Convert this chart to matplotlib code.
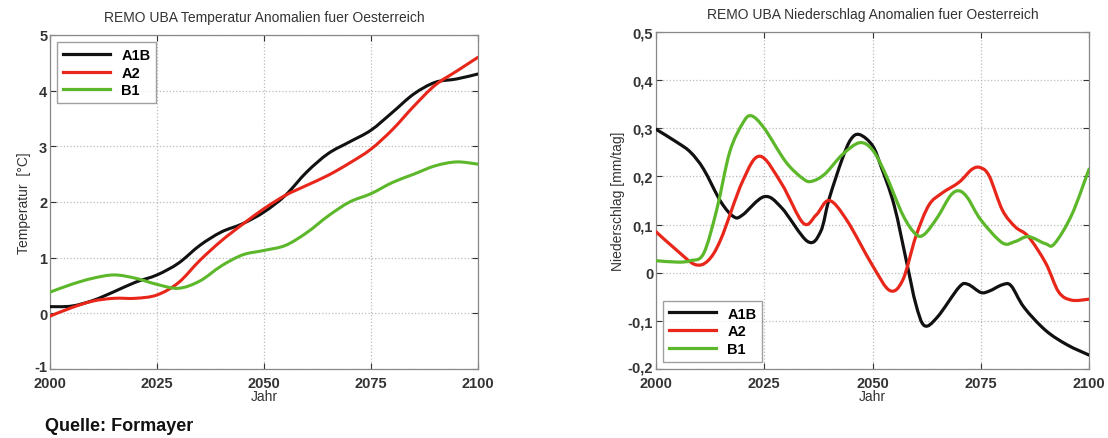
import matplotlib
matplotlib.use("Agg")
import matplotlib.pyplot as plt
import matplotlib.transforms as mtrans
from matplotlib.path import Path
from matplotlib.patches import PathPatch
from matplotlib.lines import Line2D

plt.rcParams['font.family'] = ['Liberation Sans', 'DejaVu Sans']

# ---- Temperature data ----
t_years = [2000, 2005, 2010, 2015, 2020, 2025, 2030, 2035, 2040, 2045, 2050,
           2055, 2060, 2065, 2070, 2075, 2080, 2085, 2090, 2095, 2100]
t_a1b = [0.12, 0.13, 0.23, 0.39, 0.56, 0.69, 0.9, 1.22, 1.46, 1.61, 1.82,
         2.12, 2.54, 2.87, 3.08, 3.29, 3.61, 3.94, 4.15, 4.21, 4.3]
t_a2 = [-0.05, 0.1, 0.22, 0.27, 0.27, 0.33, 0.55, 0.95, 1.3, 1.6, 1.88,
        2.12, 2.3, 2.48, 2.7, 2.95, 3.3, 3.72, 4.1, 4.35, 4.6]
t_b1 = [0.38, 0.52, 0.63, 0.69, 0.63, 0.52, 0.45, 0.58, 0.85, 1.05, 1.13,
        1.22, 1.45, 1.75, 2.0, 2.15, 2.35, 2.5, 2.65, 2.72, 2.68]

# ---- Precipitation data ----
p_a1b_years = [2000, 2005, 2008, 2011, 2015, 2018, 2020, 2025, 2029, 2035,
               2038, 2040, 2043, 2045, 2047, 2050, 2052, 2055, 2058, 2060, 2062,
               2065, 2070, 2072, 2075, 2077, 2080, 2082, 2085, 2090, 2095, 2100]
p_a1b = [0.298, 0.27, 0.25, 0.215, 0.147, 0.116, 0.12, 0.158, 0.135, 0.065,
         0.085, 0.154, 0.236, 0.277, 0.287, 0.264, 0.22, 0.14, 0.017, -0.065, -0.11,
         -0.092, -0.03, -0.024, -0.041, -0.038, -0.025, -0.027, -0.072, -0.12, -0.15, -0.171]
p_a2_years = [2000, 2005, 2009, 2012, 2015, 2020, 2024, 2029, 2034, 2037,
              2040, 2044, 2050, 2054, 2057, 2060, 2063, 2066, 2070, 2073,
              2075, 2077, 2080, 2083, 2086, 2090, 2093, 2096, 2100]
p_a2 = [0.085, 0.045, 0.017, 0.025, 0.07, 0.19, 0.242, 0.185, 0.103, 0.12,
        0.15, 0.11, 0.015, -0.037, -0.015, 0.075, 0.14, 0.165, 0.188, 0.215,
        0.218, 0.2, 0.13, 0.095, 0.075, 0.02, -0.04, -0.057, -0.055]
p_b1_years = [2000, 2005, 2008, 2011, 2014, 2017, 2020, 2022, 2025, 2030, 2034,
              2036, 2039, 2043, 2047, 2050, 2053, 2057, 2060, 2062, 2065, 2068,
              2070, 2072, 2075, 2080, 2083, 2086, 2090, 2092, 2096, 2100]
p_b1 = [0.025, 0.022, 0.025, 0.04, 0.13, 0.25, 0.31, 0.326, 0.3, 0.23, 0.195,
        0.19, 0.205, 0.245, 0.27, 0.255, 0.205, 0.12, 0.08, 0.08, 0.115, 0.16,
        0.17, 0.155, 0.11, 0.062, 0.065, 0.075, 0.06, 0.06, 0.12, 0.215]

x_ticks = [2000, 2025, 2050, 2075, 2100]
labels = ['A1B', 'A2', 'B1']
colors = ['#111111', '#e8261a', '#5cb82a']

fig = plt.figure(figsize=(11.08, 4.39), dpi=100)
ax1 = fig.add_axes([50/1108, 69/439, 428/1108, 334/439])
ax2 = fig.add_axes([656/1108, 69/439, 433/1108, 337/439])


def smooth_line(ax, xs, ys, color, lw):
    """Draw the data points joined by a smooth Bezier path (Catmull-Rom)."""
    n = len(xs)
    verts = [(xs[0], ys[0])]
    codes = [Path.MOVETO]
    for i in range(n - 1):
        x0, y0 = (xs[i - 1], ys[i - 1]) if i > 0 else (xs[i], ys[i])
        x1, y1 = xs[i], ys[i]
        x2, y2 = xs[i + 1], ys[i + 1]
        x3, y3 = (xs[i + 2], ys[i + 2]) if i + 2 < n else (xs[i + 1], ys[i + 1])
        c1 = (x1 + (x2 - x0) / 6.0, y1 + (y2 - y0) / 6.0)
        c2 = (x2 - (x3 - x1) / 6.0, y2 - (y3 - y1) / 6.0)
        verts += [c1, c2, (x2, y2)]
        codes += [Path.CURVE4] * 3
    patch = PathPatch(Path(verts, codes), fill=False, edgecolor=color, lw=lw,
                      capstyle='round', joinstyle='round', zorder=3)
    ax.add_patch(patch)


def style(ax):
    ax.grid(True, color='#bbbbbb', linestyle=':', linewidth=0.9)
    ax.tick_params(direction='in', length=4, labelsize=10.5, colors='#333333',
                   top=True, right=True)
    ax.tick_params(axis='x', pad=5)
    ax.tick_params(axis='y', pad=2)
    for s in ax.spines.values():
        s.set_color('#888888')
        s.set_linewidth(0.9)
    ax.set_xlim(2000, 2100)
    ax.set_xticks(x_ticks)
    ax.set_xticklabels([str(v) for v in x_ticks], fontweight='bold', fontsize=10.5,
                       color='#333333')
    ax.set_xlabel('Jahr', fontsize=10, color='#333333', labelpad=-1)
    # lift lowest y tick label a bit like the reference
    lab = ax.get_yticklabels()[0]
    lab.set_transform(lab.get_transform() +
                      mtrans.ScaledTranslation(0, 3 / 100, fig.dpi_scale_trans))


def legend(ax, loc):
    handles = [Line2D([], [], color=c, lw=2.3) for c in colors]
    ax.legend(handles, labels, loc=loc, frameon=True, fancybox=False,
              edgecolor='#888888', handlelength=3.2, borderpad=0.4,
              labelspacing=0.25, prop={'weight': 'bold', 'size': 10.5})


for ys, c in zip([t_a1b, t_a2, t_b1], colors):
    smooth_line(ax1, t_years, ys, c, 2.2)
ax1.set_ylim(-1, 5)
ax1.set_yticks(range(-1, 6))
ax1.set_yticklabels([str(v) for v in range(-1, 6)], fontweight='bold',
                    color='#333333')
style(ax1)
ax1.set_ylabel('Temperatur  [°C]', fontsize=10, color='#333333', labelpad=2)
ax1.set_title('REMO UBA Temperatur Anomalien fuer Oesterreich', fontsize=10,
              color='#333333', pad=10)
legend(ax1, 'upper left')

for xs, ys, c in zip([p_a1b_years, p_a2_years, p_b1_years], [p_a1b, p_a2, p_b1], colors):
    smooth_line(ax2, xs, ys, c, 2.3)
ax2.set_ylim(-0.2, 0.5)
yt = [-0.2, -0.1, 0, 0.1, 0.2, 0.3, 0.4, 0.5]
ax2.set_yticks(yt)
ax2.set_yticklabels(['-0,2', '-0,1', '0', '0,1', '0,2', '0,3', '0,4', '0,5'],
                    fontweight='bold', color='#333333')
style(ax2)
ax2.set_ylabel('Niederschlag [mm/tag]', fontsize=10, color='#333333', labelpad=2)
ax2.set_title('REMO UBA Niederschlag Anomalien fuer Oesterreich', fontsize=10,
              color='#333333', pad=10)
legend(ax2, 'lower left')

fig.text(45/1108, 1 - 427/439, 'Quelle: Formayer', fontsize=13, fontweight='bold',
         color='#111111', va='center', ha='left')

fig.savefig('out.png', dpi=100)
